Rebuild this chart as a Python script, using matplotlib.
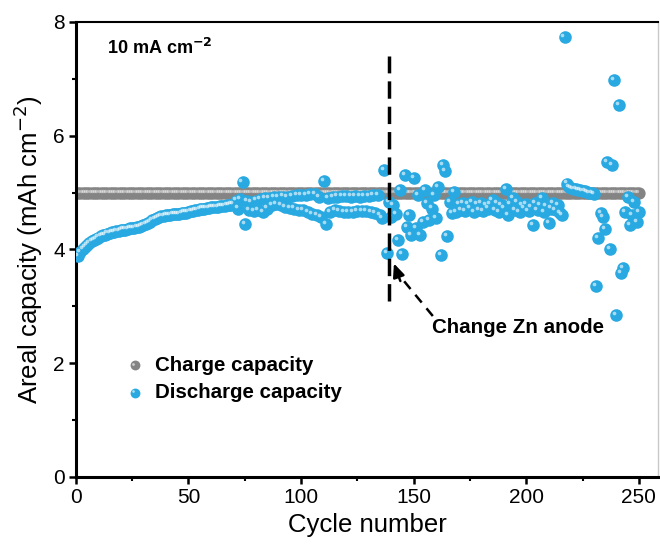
import matplotlib
matplotlib.use("Agg")
import matplotlib.pyplot as plt
from matplotlib.transforms import offset_copy

plt.rcParams['font.family'] = ['Liberation Sans', 'DejaVu Sans']

# discharge capacity per cycle (mAh cm-2), cycles 1..250
discharge = [
    3.88, 3.95, 4.00, 4.05, 4.08, 4.12, 4.15, 4.17, 4.19, 4.21,
    4.23, 4.25, 4.26, 4.28, 4.29, 4.30, 4.31, 4.32, 4.33, 4.34,
    4.35, 4.35, 4.36, 4.37, 4.37, 4.38, 4.39, 4.40, 4.41, 4.43,
    4.45, 4.47, 4.49, 4.51, 4.53, 4.55, 4.57, 4.58, 4.59, 4.60,
    4.61, 4.61, 4.62, 4.62, 4.63, 4.63, 4.64, 4.65, 4.65, 4.66,
    4.67, 4.68, 4.69, 4.70, 4.71, 4.72, 4.72, 4.73, 4.73, 4.74,
    4.74, 4.75, 4.75, 4.76, 4.76, 4.77, 4.78, 4.78, 4.79, 4.80,
    4.86, 4.72, 4.88, 5.18, 4.45, 4.85, 4.70, 4.84, 4.68, 4.86,
    4.69, 4.88, 4.66, 4.90, 4.72, 4.91, 4.78, 4.92, 4.80, 4.92,
    4.78, 4.93, 4.75, 4.92, 4.73, 4.94, 4.72, 4.95, 4.70, 4.96,
    4.69, 4.96, 4.66, 4.98, 4.63, 4.97, 4.60, 4.92, 4.57, 5.20,
    4.44, 4.90, 4.66, 4.92, 4.70, 4.93, 4.68, 4.94, 4.66, 4.94,
    4.66, 4.93, 4.66, 4.94, 4.67, 4.93, 4.67, 4.94, 4.68, 4.94,
    4.66, 4.95, 4.64, 4.95, 4.60, 4.55, 5.40, 3.94,
    4.83, 4.57, 4.78, 4.62, 4.16, 5.04, 3.92, 5.31, 4.40, 4.60,
    4.25, 5.25, 4.38, 4.96, 4.25, 4.48, 5.04, 4.81, 4.52, 4.72,
    4.96, 4.55, 5.10, 3.90, 5.48, 5.38, 4.24, 4.83, 4.64, 5.01,
    4.66, 4.80,
    4.70, 4.82, 4.68, 4.80, 4.72, 4.84, 4.66, 4.80, 4.70, 4.82,
    4.68, 4.78, 4.72, 4.80, 4.87, 4.70, 4.82, 4.66, 4.78, 4.72,
    5.06, 4.60, 4.80, 4.90, 4.70, 4.84, 4.66, 4.78, 4.72, 4.80,
    4.68, 4.74, 4.43, 4.82, 4.70, 4.78, 4.90, 4.66, 4.76, 4.46,
    4.72, 4.81, 4.70, 4.78, 4.64, 4.60, 7.73, 5.16,
    5.10, 5.08, 5.06, 5.06, 5.05, 5.04, 5.03, 5.02, 5.01, 5.00, 4.99,
    4.98, 3.36, 4.20, 4.64, 4.57, 4.36, 5.54, 4.01, 5.48, 6.98,
    2.85, 6.54, 3.58, 3.67, 4.66, 4.92, 4.43, 4.60, 4.84, 4.48, 4.66,
]
charge = [5.0] * 250
cycles = list(range(1, len(discharge) + 1))

blue = '#29a9e1'
grey = '#848484'

fig = plt.figure(figsize=(6.6, 5.48), dpi=100)
ax = fig.add_axes([0.115, 0.1296, 0.882, 0.8303])

# shiny ball markers: solid disc + small white highlight up-left
hl = offset_copy(ax.transData, fig=fig, x=-1.5, y=1.5, units='points')
ax.scatter(cycles, charge, s=78, color=grey, linewidths=0, zorder=2)
ax.scatter(cycles, charge, s=6, color='white', alpha=0.45, linewidths=0,
           transform=hl, zorder=2)
ax.scatter(cycles, discharge, s=82, color=blue, linewidths=0, zorder=3)
ax.scatter(cycles, discharge, s=7, color='white', alpha=0.6, linewidths=0,
           transform=hl, zorder=3)

# zinc anode replaced here
ax.vlines(139, 3.1, 7.4, colors='black', linewidth=2.5,
          linestyles=(0, (5, 2.3)), zorder=4)
ax.plot([158.5, 143.5], [2.83, 3.55], color='black', lw=1.8,
        linestyle=(0, (4, 3)), zorder=4)
ax.annotate('', xy=(140.8, 3.80), xytext=(144.5, 3.40),
            arrowprops=dict(arrowstyle='-|>,head_length=0.8,head_width=0.35',
                            color='black', lw=1.8), zorder=4)
ax.text(158, 2.62, 'Change Zn anode', fontsize=14.8, fontweight='bold',
        va='center', ha='left')

ax.text(0.053, 0.943, r'10 mA cm$^{\mathbf{-2}}$', transform=ax.transAxes,
        fontsize=13, fontweight='bold', va='center', ha='left')

# legend drawn by hand so the markers keep the highlight
for yy, col, lab in [(0.246, grey, 'Charge capacity'),
                     (0.185, blue, 'Discharge capacity')]:
    ax.scatter([0.101], [yy], s=50, color=col, linewidths=0,
               transform=ax.transAxes, zorder=5)
    ax.scatter([0.101], [yy], s=4, color='white', alpha=0.6, linewidths=0,
               transform=offset_copy(ax.transAxes, fig=fig, x=-1, y=1,
                                     units='points'), zorder=5)
    ax.text(0.136, yy, lab, transform=ax.transAxes, fontsize=14.8,
            fontweight='bold', va='center', ha='left')

ax.set_xlim(0, 258.5)
ax.set_ylim(0, 8)
ax.set_xticks([0, 50, 100, 150, 200, 250])
ax.set_xticks([25, 75, 125, 175, 225], minor=True)
ax.set_yticks([0, 2, 4, 6, 8])
ax.set_yticks([1, 3, 5, 7], minor=True)
ax.tick_params(which='major', direction='out', length=5, width=1.8,
               labelsize=15, pad=3)
ax.tick_params(which='minor', direction='out', length=3, width=1.5)
ax.tick_params(top=False, right=False)
ax.set_xlabel('Cycle number', fontsize=18.5, labelpad=4)
ax.set_ylabel(r'Areal capacity (mAh cm$^{-2}$)', fontsize=18.5, labelpad=6)

for side in ['left', 'bottom']:
    ax.spines[side].set_linewidth(2.2)
ax.spines['top'].set_linewidth(1.5)
ax.spines['right'].set_linewidth(1.0)
ax.spines['right'].set_color('#c8c8c8')

fig.savefig('out.png', dpi=100)
